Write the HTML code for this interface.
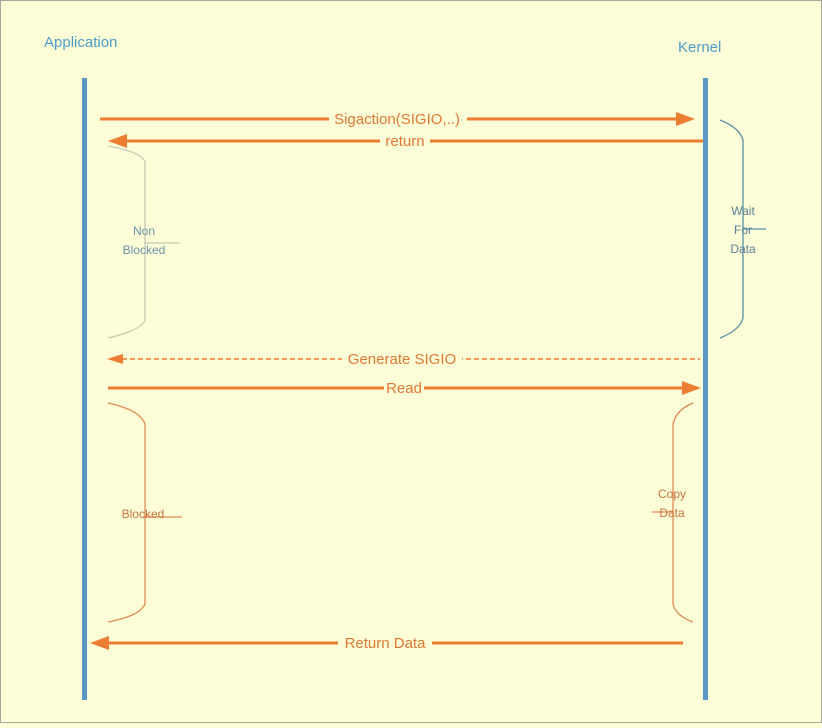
<!DOCTYPE html>
<html><head><style>
body{margin:0;width:822px;height:723px;overflow:hidden;background:#fdfdd8;}
</style></head><body>
<svg width="822" height="723" xmlns="http://www.w3.org/2000/svg" font-family="Liberation Sans, sans-serif">
<rect x="0.5" y="0.5" width="821" height="722" fill="#fdfdd8" stroke="#a8a8a0"/>
<text x="44" y="47" font-size="15" fill="#4e9cc9">Application</text>
<text x="678" y="52" font-size="15" fill="#4e9cc9">Kernel</text>
<rect x="82" y="78" width="5" height="622" fill="#5a98c4"/>
<rect x="703" y="78" width="5" height="622" fill="#5a98c4"/>
<g stroke="#ed7d31" fill="none">
<line x1="100" y1="119" x2="678" y2="119" stroke-width="3"/>
<line x1="124" y1="141" x2="703" y2="141" stroke-width="3"/>
<line x1="122" y1="359" x2="700" y2="359" stroke-width="1.5" stroke-dasharray="5,3"/>
<line x1="108" y1="388" x2="684" y2="388" stroke-width="3"/>
<line x1="106" y1="643" x2="683" y2="643" stroke-width="3"/>
</g>
<g fill="#ed7d31">
<polygon points="695,119 676,112 676,126"/>
<polygon points="108,141 127,134 127,148"/>
<polygon points="107,359 123,354 123,364"/>
<polygon points="701,388 682,381 682,395"/>
<polygon points="90,643 109,636 109,650"/>
</g>
<g font-size="15" fill="#e07a33" text-anchor="middle">
<rect x="329" y="110" width="138" height="18" fill="#fdfdd8"/>
<text x="397" y="124">Sigaction(SIGIO,..)</text>
<rect x="380" y="132" width="50" height="18" fill="#fdfdd8"/>
<text x="405" y="146">return</text>
<rect x="342" y="350" width="120" height="18" fill="#fdfdd8"/>
<text x="402" y="364">Generate SIGIO</text>
<rect x="384" y="379" width="40" height="18" fill="#fdfdd8"/>
<text x="404" y="393">Read</text>
<rect x="338" y="634" width="94" height="18" fill="#fdfdd8"/>
<text x="385" y="648">Return Data</text>
</g>
<g fill="none" stroke-width="1.3">
<path d="M108,146 Q142,152 145,162 L145,320 Q142,330 108,338" stroke="#c8c8b8"/>
<line x1="145" y1="243" x2="180" y2="243" stroke="#c8c8b8"/>
<path d="M720,120 Q740,128 743,140 L743,318 Q740,330 720,338" stroke="#5a8fa8"/>
<line x1="743" y1="229" x2="766" y2="229" stroke="#5a8fa8"/>
<path d="M108,403 Q140,410 145,424 L145,604 Q140,616 108,622" stroke="#e08a50"/>
<line x1="145" y1="517" x2="182" y2="517" stroke="#e08a50"/>
<path d="M693,403 Q676,410 673,424 L673,604 Q676,616 693,622" stroke="#e08a50"/>
<line x1="652" y1="512" x2="673" y2="512" stroke="#e08a50"/>
</g>
<g font-size="12" text-anchor="middle">
<text x="144" y="235" fill="#6a94a8">Non</text>
<text x="144" y="254" fill="#6a94a8">Blocked</text>
<text x="743" y="215" fill="#5a7f96">Wait</text>
<text x="743" y="234" fill="#5a7f96">For</text>
<text x="743" y="253" fill="#5a7f96">Data</text>
<text x="143" y="518" fill="#c8743c">Blocked</text>
<text x="672" y="498" fill="#c8743c">Copy</text>
<text x="672" y="517" fill="#c8743c">Data</text>
</g>
</svg>
</body></html>
